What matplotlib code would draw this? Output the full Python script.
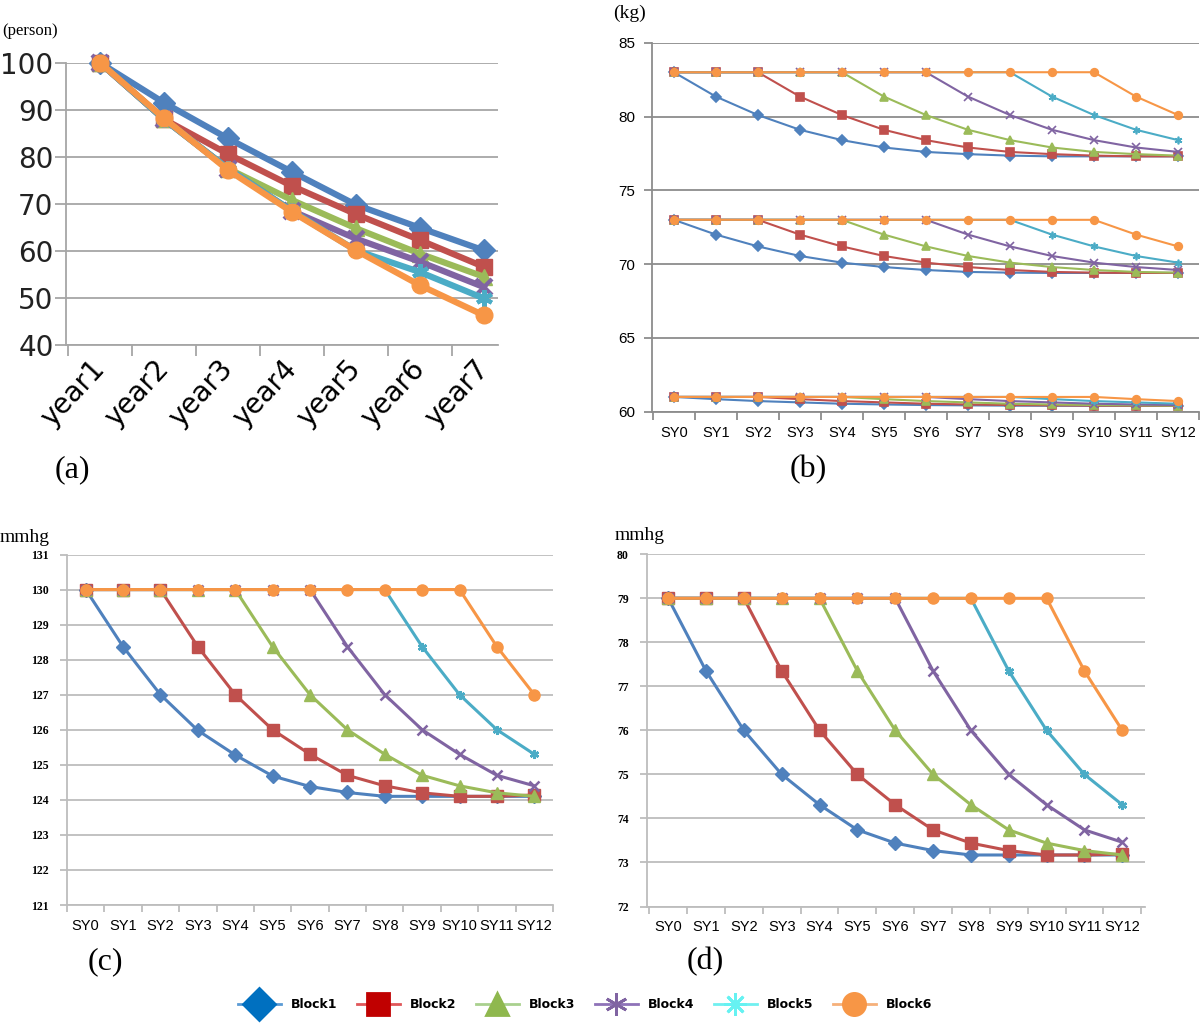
import numpy as np
import matplotlib
matplotlib.use("Agg")
import matplotlib.pyplot as plt
from matplotlib.lines import Line2D

# ---- panel (a): persons per year ----
YEARS = ["year1", "year2", "year3", "year4", "year5", "year6", "year7"]
A_B1 = [100, 91.5, 83.9, 76.8, 69.8, 64.9, 60.1]
A_B2 = [100, 88.0, 80.6, 73.8, 67.8, 62.3, 56.6]
A_B3 = [100, 88.0, 77.5, 70.8, 64.8, 59.4, 54.5]
A_B4 = [100, 88.0, 77.5, 68.5, 62.6, 57.7, 52.3]
A_B5 = [100, 88.0, 77.5, 68.5, 60.1, 55.5, 49.9]
A_B6 = [100, 88.2, 77.2, 68.3, 60.1, 52.7, 46.3]

SY = [f"SY{i}" for i in range(13)]

# ---- panel (b): weight (kg), three starting levels ----
KG83 = [
    [83, 81.35, 80.1, 79.1, 78.4, 77.9, 77.6, 77.45, 77.35, 77.3, 77.3, 77.3, 77.3],
    [83, 83, 83, 81.35, 80.1, 79.1, 78.4, 77.9, 77.6, 77.45, 77.35, 77.3, 77.3],
    [83, 83, 83, 83, 83, 81.35, 80.1, 79.1, 78.4, 77.9, 77.6, 77.45, 77.35],
    [83, 83, 83, 83, 83, 83, 83, 81.35, 80.1, 79.1, 78.4, 77.9, 77.6],
    [83, 83, 83, 83, 83, 83, 83, 83, 83, 81.35, 80.1, 79.1, 78.4],
    [83, 83, 83, 83, 83, 83, 83, 83, 83, 83, 83, 81.35, 80.1],
]
KG73 = [
    [73, 72.0, 71.2, 70.55, 70.1, 69.8, 69.6, 69.47, 69.42, 69.4, 69.4, 69.4, 69.4],
    [73, 73, 73, 72.0, 71.2, 70.55, 70.1, 69.8, 69.6, 69.47, 69.42, 69.4, 69.4],
    [73, 73, 73, 73, 73, 72.0, 71.2, 70.55, 70.1, 69.8, 69.6, 69.47, 69.42],
    [73, 73, 73, 73, 73, 73, 73, 72.0, 71.2, 70.55, 70.1, 69.8, 69.6],
    [73, 73, 73, 73, 73, 73, 73, 73, 73, 72.0, 71.2, 70.55, 70.1],
    [73, 73, 73, 73, 73, 73, 73, 73, 73, 73, 73, 72.0, 71.2],
]
KG61 = [
    [61, 60.85, 60.72, 60.63, 60.54, 60.49, 60.45, 60.43, 60.41, 60.4, 60.4, 60.4, 60.4],
    [61, 61, 61, 60.85, 60.72, 60.63, 60.54, 60.49, 60.45, 60.43, 60.41, 60.4, 60.4],
    [61, 61, 61, 61, 61, 60.85, 60.72, 60.63, 60.54, 60.49, 60.45, 60.43, 60.41],
    [61, 61, 61, 61, 61, 61, 61, 60.85, 60.72, 60.63, 60.54, 60.49, 60.45],
    [61, 61, 61, 61, 61, 61, 61, 61, 61, 60.85, 60.72, 60.63, 60.54],
    [61, 61, 61, 61, 61, 61, 61, 61, 61, 61, 61, 60.85, 60.72],
]

# ---- panel (c): systolic (mmhg) ----
SBP = [
    [130, 128.37, 127.0, 125.98, 125.28, 124.68, 124.38, 124.21, 124.1, 124.1, 124.1, 124.1, 124.1],
    [130, 130, 130, 128.37, 127.0, 126.0, 125.3, 124.7, 124.4, 124.2, 124.1, 124.1, 124.14],
    [130, 130, 130, 130, 130, 128.37, 127.0, 126.0, 125.3, 124.7, 124.4, 124.2, 124.1],
    [130, 130, 130, 130, 130, 130, 130, 128.37, 127.0, 126.0, 125.3, 124.7, 124.4],
    [130, 130, 130, 130, 130, 130, 130, 130, 130, 128.37, 127.0, 126.0, 125.3],
    [130, 130, 130, 130, 130, 130, 130, 130, 130, 130, 130, 128.37, 127.0],
]

# ---- panel (d): diastolic (mmhg) ----
DBP = [
    [79, 77.35, 76.0, 75.0, 74.31, 73.74, 73.44, 73.27, 73.17, 73.17, 73.17, 73.17, 73.17],
    [79, 79, 79, 77.35, 76.0, 75.0, 74.31, 73.74, 73.44, 73.27, 73.17, 73.17, 73.19],
    [79, 79, 79, 79, 79, 77.35, 76.0, 75.0, 74.31, 73.74, 73.44, 73.27, 73.17],
    [79, 79, 79, 79, 79, 79, 79, 77.35, 76.0, 75.0, 74.31, 73.74, 73.46],
    [79, 79, 79, 79, 79, 79, 79, 79, 79, 77.35, 76.0, 75.0, 74.31],
    [79, 79, 79, 79, 79, 79, 79, 79, 79, 79, 79, 77.35, 76.0],
]

BLOCKS = ["Block1", "Block2", "Block3", "Block4", "Block5", "Block6"]
COLORS = ["#4F81BD", "#C0504D", "#9BBB59", "#8064A2", "#4BACC6", "#F79646"]
MARKERS = ["D", "s", "^", "x", (6, 2, 0), "o"]
THIN = ("x", (6, 2, 0))

W, H = 1200, 1033
fig = plt.figure(figsize=(W / 100, H / 100), dpi=100)


def px_axes(l, t, r, b):
    return fig.add_axes([l / W, 1 - b / H, (r - l) / W, (b - t) / H])


def style(ax, n, xlo, xhi, ylo, yhi, ystep, gcol, ticklen, xfont, yfont):
    ax.set_xlim(xlo, xhi)
    ax.set_ylim(ylo, yhi)
    ax.set_yticks(np.arange(ylo, yhi + 0.01, ystep))
    ax.yaxis.grid(True, color=gcol, lw=1.3)
    ax.set_axisbelow(True)
    for s in ("top", "right"):
        ax.spines[s].set_visible(False)
    for s in ("left", "bottom"):
        ax.spines[s].set_color(gcol)
        ax.spines[s].set_linewidth(1.3)
    ax.set_xticks(range(n))
    ax.set_xticks([k - 0.5 for k in range(n + 1) if xlo - 0.1 <= k - 0.5 <= xhi + 0.01],
                  minor=True)
    ax.tick_params(axis="x", which="major", length=0, **xfont)
    ax.tick_params(axis="x", which="minor", length=ticklen, width=1.3, color=gcol)
    ax.tick_params(axis="y", length=ticklen, width=1.3, color=gcol, **yfont)


def sy_panel(ax, series, xlo, xhi, ylo, yhi):
    for ys, c, m in zip(series, COLORS, MARKERS):
        ax.plot(range(13), ys, color=c, lw=2.2, marker=m,
                ms=6.5 if m in THIN else (7 if m == "D" else 8),
                mew=1.8 if m in THIN else 1, mec=c)
    style(ax, 13, xlo, xhi, ylo, yhi, 1, "#BDBDBD", 5,
          dict(labelsize=10.5, pad=10), dict(labelsize=8.5, pad=8))
    ax.set_xticklabels(SY, family="Liberation Sans")
    for lab in ax.get_yticklabels():
        lab.set_family("Liberation Serif")
        lab.set_fontweight("bold")


# (a)
ax = px_axes(66, 62.7, 498, 345)
for ys, c, m in zip([A_B1, A_B2, A_B3, A_B4, A_B5, A_B6], COLORS, MARKERS):
    ms = 11 if m in ("D", "s") else 12
    ax.plot(range(7), ys, color=c, lw=4.5, marker=m, ms=ms, mew=3 if m in THIN else 1,
            mec=c, clip_on=False)
style(ax, 7, -0.53, 6.22, 40, 100, 10, "#A6A6A6", 8,
      dict(labelsize=20, pad=14), dict(labelsize=20, pad=1, labelcolor="#222222"))
ax.set_xticklabels(YEARS, rotation=47, ha="right", va="center", rotation_mode="anchor")

# (b)
ax = px_axes(652, 42.7, 1199, 411.7)
for grp in (KG83, KG73, KG61):
    for ys, c, m in zip(grp, COLORS, MARKERS):
        ax.plot(range(13), ys, color=c, lw=1.5, marker=m, ms=5.5, mew=1.2, mec=c)
style(ax, 13, -0.52, 12.5, 60, 85, 5, "#8C8C8C", 6,
      dict(labelsize=10.5, pad=10), dict(labelsize=11, pad=6))
ax.set_xticklabels(SY, family="Liberation Sans")
for lab in ax.get_yticklabels():
    lab.set_family("Liberation Sans")

# (c), (d)
sy_panel(px_axes(67, 554.5, 553, 905), SBP, -0.41, 12.5, 121, 131)
sy_panel(px_axes(647, 554.3, 1145, 906.5), DBP, -0.56, 12.6, 72, 80)

# unit and panel labels
serif = "Liberation Serif"
fig.text(2 / W, 1 - 31 / H, "(person)", family=serif, size=12, va="center", ha="left")
fig.text(630 / W, 1 - 13 / H, "(kg)", family=serif, size=14, va="center", ha="center")
fig.text(0 / W, 1 - 537 / H, "mmhg", family=serif, size=14, va="center", ha="left")
fig.text(615 / W, 1 - 535 / H, "mmhg", family=serif, size=14, va="center", ha="left")
for s, x, y in [("(a)", 72, 470), ("(b)", 808, 470), ("(c)", 105, 962), ("(d)", 705, 962)]:
    fig.text(x / W, 1 - y / H, s, family=serif, size=23, va="center", ha="center")

# legend
LEG_LINE = ["#5B9BD5", "#E0575A", "#A9D08E", "#8E72B8", "#70F0F0", "#F6B07A"]
LEG_FACE = ["#0070C0", "#C00000", "#8FB84E", "#8064A2", "#66F2F2", "#F79646"]
LEG_MARK = ["D", "s", "^", (6, 2, 0), (8, 2, 0), "o"]
handles = []
for lc, fc, m in zip(LEG_LINE, LEG_FACE, LEG_MARK):
    handles.append(Line2D([], [], color=lc, lw=2, marker=m, ms=16, mfc=fc, mec=fc, mew=2))
fig.legend(handles, BLOCKS, loc="center", bbox_to_anchor=(585 / W, 1 - 1005 / H), ncol=6,
           frameon=False, handlelength=3.4, columnspacing=1.6, handletextpad=0.8,
           prop=dict(family=["Liberation Sans Narrow", "DejaVu Sans"], weight="bold", size=9))

fig.savefig("out.png", dpi=100)
